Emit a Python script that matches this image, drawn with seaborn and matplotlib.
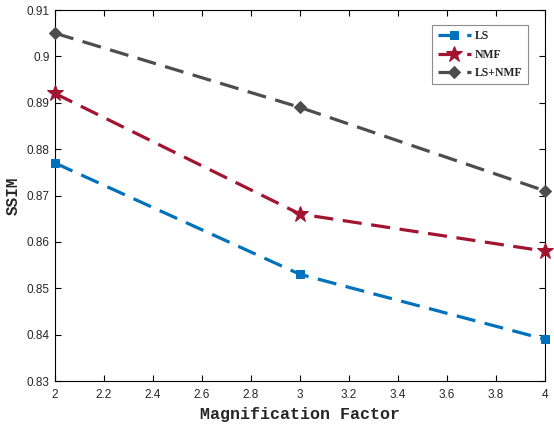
import matplotlib
matplotlib.use("Agg")
import matplotlib.pyplot as plt
import seaborn as sns
import pandas as pd

# Magnification factors and SSIM per method
factors = [2, 3, 4]
ssim_ls = [0.877, 0.853, 0.839]
ssim_nmf = [0.892, 0.866, 0.858]
ssim_ls_nmf = [0.905, 0.889, 0.871]
methods = ["LS", "NMF", "LS+NMF"]

x_ticks = [2, 2.2, 2.4, 2.6, 2.8, 3, 3.2, 3.4, 3.6, 3.8, 4]
x_ticklabels = ["2", "2.2", "2.4", "2.6", "2.8", "3", "3.2", "3.4", "3.6", "3.8", "4"]
y_ticks = [0.83, 0.84, 0.85, 0.86, 0.87, 0.88, 0.89, 0.9, 0.91]
y_ticklabels = ["0.83", "0.84", "0.85", "0.86", "0.87", "0.88", "0.89", "0.9", "0.91"]

df = pd.DataFrame({
    "factor": factors * 3,
    "ssim": ssim_ls + ssim_nmf + ssim_ls_nmf,
    "method": [m for m in methods for _ in factors],
})

sns.set_style("white")
plt.rcParams["font.family"] = ["Liberation Sans", "DejaVu Sans"]

fig = plt.figure(figsize=(5.54, 4.28), dpi=100)
ax = fig.add_axes([0.0993, 0.1098, 0.8845, 0.8668])

styles = {
    "LS": dict(color="#0072BD", marker="s", markersize=6),
    "NMF": dict(color="#A2142F", marker="*", markersize=12),
    "LS+NMF": dict(color="#4D4D4D", marker="D", markersize=6),
}
for m in methods:
    st = styles[m]
    sns.lineplot(data=df[df["method"] == m], x="factor", y="ssim", ax=ax,
                 color=st["color"], marker=st["marker"], markersize=st["markersize"],
                 markeredgecolor=st["color"], linewidth=2.3, dashes=(6, 3),
                 label=m, clip_on=False, zorder=3)

ax.set_xlim(2, 4)
ax.set_ylim(0.83, 0.91)
ax.set_xticks(x_ticks)
ax.set_xticklabels(x_ticklabels)
ax.set_yticks(y_ticks)
ax.set_yticklabels(y_ticklabels)
ax.tick_params(direction="in", length=4, width=0.8, labelsize=8.5,
               top=True, right=True, bottom=True, left=True, colors="black",
               labelcolor="#262626")
ax.tick_params(axis="x", pad=6)
ax.tick_params(axis="y", pad=4)
for s in ax.spines.values():
    s.set_visible(True)
    s.set_color("black")
    s.set_linewidth(0.8)
ax.grid(False)

ax.set_xlabel("Magnification Factor", family=["Liberation Mono", "DejaVu Sans Mono"],
              fontweight="bold", fontsize=12, labelpad=4)
ax.set_ylabel("SSIM", family=["Liberation Mono", "DejaVu Sans Mono"],
              fontweight="bold", fontsize=11.5, labelpad=4)

leg = ax.legend(loc="upper right", bbox_to_anchor=(0.965, 0.96), borderaxespad=0,
                frameon=True, fancybox=False, edgecolor="#6E6E6E", handlelength=2.8,
                handletextpad=0.35, borderpad=0.45, labelspacing=0.55,
                prop={"family": ["Liberation Serif", "DejaVu Serif"], "weight": "bold", "size": 8.5})
leg.get_frame().set_linewidth(0.8)

fig.savefig("out.png", dpi=100)
